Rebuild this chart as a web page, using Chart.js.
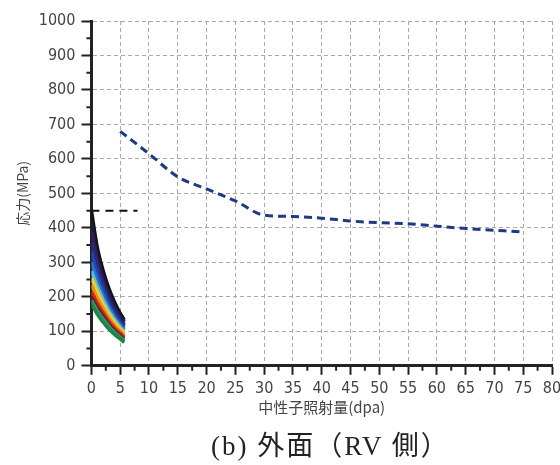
<!DOCTYPE html>
<html>
<head>
<meta charset="utf-8">
<script src="https://cdn.jsdelivr.net/npm/chart.js@4"></script>
<style>
  html, body { margin: 0; padding: 0; background: #fff; }
  #wrap { position: relative; width: 560px; height: 465px; }
  #caption {
    position: absolute; left: 211px; top: 430px;
    font: 27px 'Liberation Serif', 'Noto Sans CJK JP', serif;
    letter-spacing: 2px; line-height: 32px; color: #222; white-space: nowrap;
  }
</style>
</head>
<body>
<div id="wrap">
  <canvas id="chart" width="560" height="465"></canvas>
  <div id="caption">(b) 外面（RV 側）</div>
</div>
<script>
/* ── data ───────────────────────────────────────────────────── */
const X_TICKS = [0, 5, 10, 15, 20, 25, 30, 35, 40, 45, 50, 55, 60, 65, 70, 75, 80];
const Y_TICKS = [0, 100, 200, 300, 400, 500, 600, 700, 800, 900, 1000];

// upper limit line (blue dashed)
const LIMIT_X = [5, 10, 15, 20, 25, 30, 35, 40, 45, 50, 55, 60, 65, 70, 75];
const LIMIT_Y = [680, 615, 548, 513, 478, 437, 433, 428, 420, 415, 412, 405, 398, 393, 388];

// short black dashed reference at 450 MPa
const REF_X = [0, 8];
const REF_Y = [450, 450];

// relaxation curves, one per colour, sampled at BUNDLE_X
const BUNDLE_X = [0, 1, 2, 3, 4, 5, 5.7];
const C_GREEN    = [180, 150, 127, 107,  91,  78,  68];
const C_TEAL     = [190, 160, 136, 115,  97,  83,  73];
const C_DARKRED  = [200, 170, 145, 122, 103,  88,  78];
const C_RED      = [215, 182, 155, 130, 110,  94,  83];
const C_ORANGE   = [235, 198, 167, 140, 118, 100,  89];
const C_YELLOW   = [255, 215, 180, 150, 126, 106,  95];
const C_CYAN     = [275, 230, 192, 160, 134, 112, 100];
const C_LTBLUE   = [300, 248, 205, 170, 141, 118, 105];
const C_BLUE     = [330, 268, 220, 180, 149, 124, 110];
const C_DKBLUE   = [360, 288, 234, 190, 157, 130, 115];
const C_PURPLE   = [390, 305, 246, 200, 165, 136, 120];
const C_NAVY     = [420, 322, 260, 212, 174, 144, 127];
const C_BLACK    = [450, 345, 278, 226, 185, 152, 133];

const BUNDLE = [
  [C_GREEN,   '#1a8a3a'],
  [C_TEAL,    '#1d9a8a'],
  [C_DARKRED, '#7a1a1a'],
  [C_RED,     '#d02a1a'],
  [C_ORANGE,  '#f08a1a'],
  [C_YELLOW,  '#f2d21a'],
  [C_CYAN,    '#58c0e0'],
  [C_LTBLUE,  '#2a70d0'],
  [C_BLUE,    '#1a4ab0'],
  [C_DKBLUE,  '#2a2a80'],
  [C_PURPLE,  '#3a1a5a'],
  [C_NAVY,    '#1a1a40'],
  [C_BLACK,   '#111111'],
];

const pts = (xs, ys) => xs.map((x, i) => ({ x, y: ys[i] }));

const FONT_NUM = "'Liberation Sans Narrow', 'DejaVu Sans Condensed', sans-serif";
const FONT_JP  = "'Noto Sans CJK JP', sans-serif";

/* ── minor ticks (every 50 MPa / 2.5 dpa), drawn through the scales ── */
const minorTicks = {
  id: 'minorTicks',
  afterDraw(chart) {
    const { ctx, scales: { x, y } } = chart;
    ctx.save();
    ctx.strokeStyle = '#222';
    ctx.lineWidth = 2;
    ctx.beginPath();
    for (let v = 50; v < 1000; v += 100) {
      const py = y.getPixelForValue(v);
      ctx.moveTo(x.left - 5, py); ctx.lineTo(x.left, py);
    }
    for (let v = 2.5; v < 80; v += 5) {
      const px = x.getPixelForValue(v);
      ctx.moveTo(px, y.bottom); ctx.lineTo(px, y.bottom + 5);
    }
    ctx.stroke();
    ctx.restore();
  }
};

const datasets = BUNDLE.map(([vals, color]) => ({
  data: pts(BUNDLE_X, vals),
  borderColor: color,
  borderWidth: 3.5,
  pointRadius: 0,
  cubicInterpolationMode: 'monotone',
}));

datasets.push({
  data: pts(REF_X, REF_Y),
  borderColor: '#111',
  borderWidth: 2,
  borderDash: [8, 6],
  pointRadius: 0,
});

datasets.push({
  data: pts(LIMIT_X, LIMIT_Y),
  borderColor: '#1d3a86',
  borderWidth: 3,
  borderDash: [8, 5],
  pointRadius: 0,
  cubicInterpolationMode: 'monotone',
});

new Chart(document.getElementById('chart'), {
  type: 'line',
  data: { datasets },
  plugins: [minorTicks],
  options: {
    responsive: false,
    animation: false,
    layout: { padding: { top: 21, right: 0, bottom: 49, left: 14 } },
    plugins: {
      legend: { display: false },
      tooltip: { enabled: false },
    },
    scales: {
      x: {
        type: 'linear',
        min: 0, max: 80,
        afterBuildTicks: s => { s.ticks = X_TICKS.map(v => ({ value: v })); },
        afterFit: s => { s.paddingRight = 8; },
        ticks: { color: '#444', font: { family: FONT_NUM, size: 16 }, padding: 4, maxRotation: 0, callback: v => String(v) },
        grid: { color: '#aaa', tickColor: '#222', tickLength: 9, tickWidth: 2, lineWidth: 1 },
        border: { color: '#222', width: 3, dash: [4, 3] },
        title: { display: true, text: '中性子照射量(dpa)', color: '#444', font: { family: FONT_JP, size: 15 }, padding: { top: -4, bottom: 0 } },
      },
      y: {
        type: 'linear',
        min: 0, max: 1000,
        afterBuildTicks: s => { s.ticks = Y_TICKS.map(v => ({ value: v })); },
        ticks: { color: '#444', font: { family: FONT_NUM, size: 16 }, padding: 6, callback: v => String(v) },
        grid: { color: '#aaa', tickColor: '#222', tickLength: 10, tickWidth: 2, lineWidth: 1 },
        border: { color: '#222', width: 3, dash: [4, 3] },
        title: { display: true, text: '応力(MPa)', color: '#444', font: { family: FONT_JP, size: 14 }, padding: { top: 0, bottom: 2 } },
      },
    },
  },
});
</script>
</body>
</html>
